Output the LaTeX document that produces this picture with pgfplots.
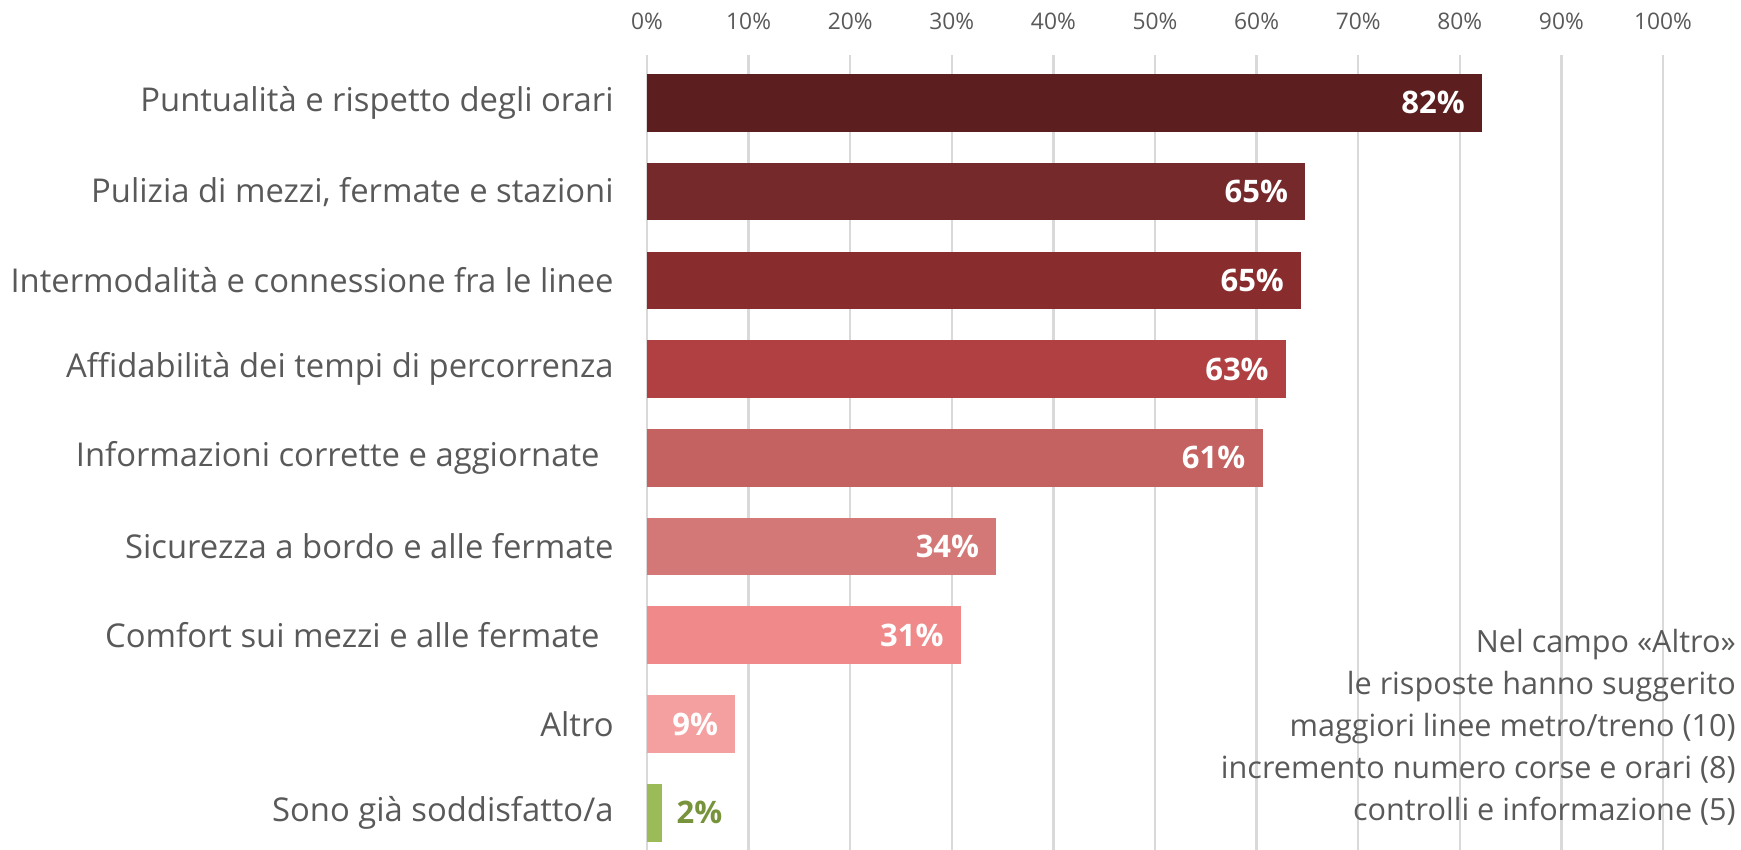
\documentclass[border=0pt]{standalone}
\usepackage{pgfplots}
\pgfplotsset{compat=1.18}
\usepackage{fontspec}
\setmainfont{Open Sans}
\definecolor{c1}{HTML}{5C1E1E}
\definecolor{c2}{HTML}{76292A}
\definecolor{c3}{HTML}{882C2D}
\definecolor{c4}{HTML}{B04041}
\definecolor{c5}{HTML}{C46161}
\definecolor{c6}{HTML}{D47777}
\definecolor{c7}{HTML}{F08989}
\definecolor{c8}{HTML}{F4A0A0}
\definecolor{c9}{HTML}{9BBB59}
\definecolor{lblgreen}{HTML}{77933C}
\definecolor{txt}{HTML}{595959}
\definecolor{gridc}{HTML}{D9D9D9}
\begin{document}
\begin{tikzpicture}
\begin{axis}[name=ax, scale only axis, width=508pt, height=397.5pt,
  xmin=0, xmax=100, ymin=-0.54, ymax=8.42, y dir=reverse,
  xbar, bar width=0.65, bar shift=0pt,
  axis line style={draw=none}, major tick length=0pt,
  xtick={0,10,...,100}, xticklabel pos=upper,
  xticklabel={\pgfmathprintnumber{\tick}\%},
  /pgf/number format/assume math mode=true,
  xticklabel style={anchor=base, yshift=12.6pt, font=\fontsize{11.4}{13}\selectfont, text=txt},
  xmajorgrids, grid style={color=gridc, line width=1.2pt},
  ytick={0,...,8},
  yticklabels={Puntualità e rispetto degli orari, {Pulizia di mezzi, fermate e stazioni}, Intermodalità e connessione fra le linee, Affidabilità dei tempi di percorrenza, Informazioni corrette e aggiornate\hspace*{7pt}, Sicurezza a bordo e alle fermate, Comfort sui mezzi e alle fermate\hspace*{7pt}, Altro, Sono già soddisfatto/a},
  yticklabel style={anchor=east, inner sep=0pt, xshift=-16.5pt, font=\fontsize{16.4}{19}\selectfont, text=txt},
  clip=false,
  point meta=explicit,
  nodes near coords={\pgfmathprintnumber{\pgfplotspointmeta}\%},
  every node near coord/.append style={anchor=east, xshift=-8.5pt, inner sep=0pt, font=\bfseries\fontsize{15.5}{18}\selectfont, text=white},
]
\addplot[fill=c1, draw=none] coordinates {(82.2,0) [82]};
\addplot[fill=c2, draw=none] coordinates {(64.8,1) [65]};
\addplot[fill=c3, draw=none] coordinates {(64.4,2) [65]};
\addplot[fill=c4, draw=none] coordinates {(62.9,3) [63]};
\addplot[fill=c5, draw=none] coordinates {(60.6,4) [61]};
\addplot[fill=c6, draw=none] coordinates {(34.4,5) [34]};
\addplot[fill=c7, draw=none] coordinates {(30.9,6) [31]};
\addplot[fill=c8, draw=none] coordinates {(8.7,7) [9]};
\addplot[fill=c9, draw=none, every node near coord/.append style={anchor=west, xshift=15.5pt, text=lblgreen}] coordinates {(1.5,8) [2]};
\node[anchor=east, align=right, text=txt, inner sep=0pt, font=\fontsize{15.3}{21}\selectfont] at (axis cs:107.2,7.04) {Nel campo «Altro»\\le risposte hanno suggerito\\maggiori linee metro/treno (10)\\incremento numero corse e orari (8)\\controlli e informazione (5)};
\end{axis}
\pgfresetboundingbox
\path[use as bounding box] ([xshift=-323.5pt]ax.south west) rectangle ([xshift=39pt,yshift=27.5pt]ax.north east);
\end{tikzpicture}
\end{document}
